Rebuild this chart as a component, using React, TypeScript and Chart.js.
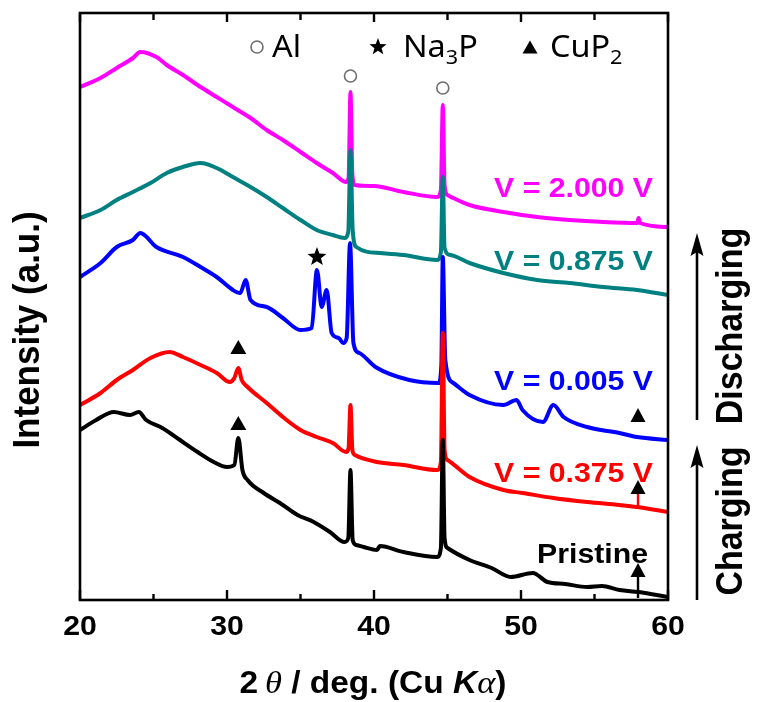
import React, { useEffect, useRef } from "react";
import { Chart, registerables } from "chart.js";

Chart.register(...registerables);

// ---- axis ----
const xMajorTicks = [20, 30, 40, 50, 60];
const xMinorTicks = [25, 35, 45, 55];
const xTickLabels = ["20", "30", "40", "50", "60"];

// ---- series: 2θ (deg) and intensity (a.u., offset-stacked) ----
const pristineX = [20.0, 21.1, 22.3, 23.4, 24.0, 24.5, 25.6, 26.8, 28.0, 29.1, 30.0, 30.5, 30.77, 31.05, 31.4, 32.5, 33.6, 34.8, 35.9, 37.0, 38.0, 38.25, 38.4, 38.55, 38.8, 39.3, 40.2, 40.4, 42.0, 44.3, 44.55, 44.68, 44.8, 45.0, 46.5, 48.0, 49.3, 50.8, 51.8, 53.0, 54.5, 55.5, 56.7, 58.0, 60.0];
const pristineY = [170, 180, 188, 185, 188, 180, 172, 160, 148, 138, 133, 135, 162, 130, 120, 107, 97, 85, 78, 68, 58, 62, 130, 60, 55, 53, 50, 54, 48, 43, 52, 160, 62, 52, 40, 32, 23, 27, 18, 16, 13, 14, 10, 8, 3];

const v0375X = [20.0, 21.4, 22.5, 23.6, 24.8, 26.1, 27.0, 28.2, 29.3, 30.2, 30.5, 30.77, 31.0, 31.4, 32.7, 33.8, 35.0, 36.1, 37.2, 38.1, 38.27, 38.4, 38.53, 38.7, 40.2, 42.0, 44.3, 44.55, 44.68, 44.8, 45.0, 46.5, 48.8, 50.1, 52.2, 54.5, 56.7, 57.9, 60.0];
const v0375Y = [195, 207, 220, 230, 242, 248, 243, 235, 227, 218, 222, 232, 220, 213, 197, 183, 170, 163, 157, 148, 152, 195, 150, 145, 138, 135, 130, 138, 267, 150, 140, 123, 110, 107, 102, 98, 95, 93, 88];

const v0005X = [20.0, 21.4, 22.5, 23.6, 24.1, 25.2, 27.0, 28.2, 29.3, 30.4, 30.9, 31.27, 31.6, 32.7, 33.8, 35.0, 35.76, 36.12, 36.44, 36.78, 37.12, 37.6, 37.9, 38.14, 38.37, 38.6, 39.0, 40.1, 42.4, 44.4, 44.58, 44.68, 44.85, 45.4, 46.5, 48.8, 49.7, 50.1, 51.5, 52.2, 52.9, 54.5, 56.7, 57.9, 60.0];
const v0005Y = [323, 337, 353, 360, 367, 353, 343, 333, 323, 310, 307, 320, 300, 293, 282, 270, 272, 330, 293, 310, 267, 262, 257, 262, 357, 257, 247, 233, 220, 217, 235, 343, 240, 217, 205, 195, 200, 190, 178, 195, 183, 173, 167, 163, 160];

const v0875X = [20.0, 21.4, 22.5, 23.6, 24.8, 25.9, 27.0, 28.2, 29.3, 30.4, 31.6, 32.7, 33.8, 35.0, 36.1, 37.2, 38.0, 38.25, 38.4, 38.55, 38.8, 40.4, 42.0, 44.3, 44.55, 44.68, 44.8, 45.2, 46.5, 48.8, 51.1, 53.3, 55.6, 57.9, 60.0];
const v0875Y = [382, 390, 400, 408, 417, 427, 433, 437, 432, 423, 413, 403, 392, 380, 370, 365, 362, 368, 450, 370, 353, 347, 345, 340, 348, 423, 352, 345, 337, 327, 320, 317, 313, 310, 305];

const v2000X = [20.0, 21.4, 22.5, 23.6, 24.1, 25.2, 25.9, 27.0, 28.2, 29.3, 30.4, 31.6, 32.7, 33.8, 35.0, 36.1, 37.2, 38.1, 38.27, 38.4, 38.53, 38.7, 40.0, 42.0, 44.3, 44.55, 44.68, 44.8, 45.0, 45.4, 46.5, 48.8, 51.1, 53.3, 55.6, 57.9, 58.0, 58.1, 60.0];
const v2000Y = [513, 522, 532, 542, 548, 543, 535, 525, 513, 503, 493, 482, 470, 460, 448, 437, 427, 418, 422, 508, 425, 415, 414, 408, 403, 410, 495, 415, 405, 402, 395, 388, 383, 380, 378, 377, 382, 377, 373];

const seriesLabels = ["Pristine", "V = 0.375 V", "V = 0.005 V", "V = 0.875 V", "V = 2.000 V"];
const seriesColors = ["#000000", "#ff0000", "#0000ff", "#008080", "#ff00ff"];

const SX = 1.08; // horizontal stretch of the original picture's lettering
const SANS = "'Liberation Sans', Arial, sans-serif";

function hText(ctx: CanvasRenderingContext2D, text: string, x: number, y: number, font: string, color: string, align: CanvasTextAlign = "left", baseline: CanvasTextBaseline = "alphabetic") {
  ctx.save();
  ctx.font = font;
  ctx.fillStyle = color;
  ctx.textAlign = align;
  ctx.textBaseline = baseline;
  ctx.translate(x, y);
  ctx.scale(SX, 1);
  ctx.fillText(text, 0, 0);
  ctx.restore();
}

function vText(ctx: CanvasRenderingContext2D, text: string, cx: number, cy: number, font: string) {
  ctx.save();
  ctx.font = font;
  ctx.fillStyle = "#000";
  ctx.textAlign = "center";
  ctx.textBaseline = "middle";
  ctx.translate(cx, cy);
  ctx.rotate(-Math.PI / 2);
  ctx.scale(1, SX);
  ctx.fillText(text, 0, 0);
  ctx.restore();
}

function triangle(ctx: CanvasRenderingContext2D, cx: number, cy: number, w: number, h: number) {
  ctx.beginPath();
  ctx.moveTo(cx, cy - h / 2);
  ctx.lineTo(cx + w / 2, cy + h / 2);
  ctx.lineTo(cx - w / 2, cy + h / 2);
  ctx.closePath();
  ctx.fillStyle = "#000";
  ctx.fill();
}

function star(ctx: CanvasRenderingContext2D, cx: number, cy: number, ro: number, ri: number) {
  ctx.beginPath();
  for (let i = 0; i < 10; i++) {
    const r = i % 2 === 0 ? ro : ri;
    const a = -Math.PI / 2 + (i * Math.PI) / 5;
    const px = cx + r * Math.cos(a);
    const py = cy + r * Math.sin(a);
    if (i === 0) ctx.moveTo(px, py);
    else ctx.lineTo(px, py);
  }
  ctx.closePath();
  ctx.fillStyle = "#000";
  ctx.fill();
}

function ring(ctx: CanvasRenderingContext2D, cx: number, cy: number, r: number) {
  ctx.beginPath();
  ctx.arc(cx, cy, r, 0, Math.PI * 2);
  ctx.strokeStyle = "#6e6e6e";
  ctx.lineWidth = 1.6;
  ctx.stroke();
}

function upArrow(ctx: CanvasRenderingContext2D, x: number, yBottom: number, yTip: number) {
  ctx.save();
  ctx.strokeStyle = "#000";
  ctx.lineWidth = 2.6;
  ctx.beginPath();
  ctx.moveTo(x, yBottom);
  ctx.lineTo(x, yTip + 18);
  ctx.stroke();
  ctx.beginPath();
  ctx.moveTo(x, yTip);
  ctx.lineTo(x + 6.5, yTip + 23);
  ctx.lineTo(x, yTip + 19);
  ctx.lineTo(x - 6.5, yTip + 23);
  ctx.closePath();
  ctx.fillStyle = "#000";
  ctx.fill();
  ctx.restore();
}

const decorPlugin = {
  id: "decor",
  afterDatasetsDraw(chart: any) {
    const ctx: CanvasRenderingContext2D = chart.ctx;
    const { left, right, top, bottom } = chart.chartArea;
    const xs = chart.scales.x;
    const ys = chart.scales.y;
    const X = (v: number) => xs.getPixelForValue(v);
    const Y = (v: number) => ys.getPixelForValue(v);

    ctx.save();
    // frame
    ctx.strokeStyle = "#000";
    ctx.lineWidth = 2.6;
    ctx.strokeRect(left, top, right - left, bottom - top);

    // ticks (inward, top and bottom)
    ctx.lineWidth = 2.4;
    ctx.beginPath();
    xMajorTicks.forEach((t) => {
      const px = X(t);
      ctx.moveTo(px, bottom);
      ctx.lineTo(px, bottom - 10);
      ctx.moveTo(px, top);
      ctx.lineTo(px, top + 9);
    });
    xMinorTicks.forEach((t) => {
      const px = X(t);
      ctx.moveTo(px, bottom);
      ctx.lineTo(px, bottom - 6);
      ctx.moveTo(px, top);
      ctx.lineTo(px, top + 7);
    });
    ctx.stroke();

    // tick labels
    xMajorTicks.forEach((t, i) => {
      hText(ctx, xTickLabels[i], X(t), bottom + 35, `bold 28px ${SANS}`, "#000", "center");
    });

    // x title: 2θ / deg. (Cu Kα)
    const segs: [string, string][] = [
      ["2", `bold 31px ${SANS}`],
      ["\u2009", `bold 31px ${SANS}`],
      ["\u03b8", `italic 32px 'Liberation Serif', serif`],
      [" / deg. (Cu ", `bold 31px ${SANS}`],
      ["K", `italic bold 31px ${SANS}`],
      ["\u03b1", `italic 32px 'Liberation Serif', serif`],
      [")", `bold 31px ${SANS}`],
    ];
    let total = 0;
    segs.forEach(([s, f]) => {
      ctx.font = f;
      total += ctx.measureText(s).width * SX;
    });
    let cx = 373 - total / 2;
    segs.forEach(([s, f]) => {
      hText(ctx, s, cx, 693, f, "#000", "left");
      ctx.font = f;
      cx += ctx.measureText(s).width * SX;
    });

    // y title
    vText(ctx, "Intensity (a.u.)", 29, 330, `bold 35px ${SANS}`);

    // top legend
    const LF = "'Noto Sans', 'Open Sans', sans-serif";
    ring(ctx, 257, 47, 6);
    hText(ctx, "Al", 272, 57, `30px ${LF}`, "#000");
    star(ctx, 378, 47, 9, 3.8);
    hText(ctx, "Na", 403, 57, `30px ${LF}`, "#000");
    ctx.font = `30px ${LF}`;
    const wNa = ctx.measureText("Na").width * SX;
    hText(ctx, "3", 403 + wNa, 64, `20px ${LF}`, "#000");
    ctx.font = `20px ${LF}`;
    const w3 = ctx.measureText("3").width * SX;
    hText(ctx, "P", 403 + wNa + w3, 57, `30px ${LF}`, "#000");
    triangle(ctx, 530, 47, 15, 13);
    hText(ctx, "CuP", 550, 57, `30px ${LF}`, "#000");
    ctx.font = `30px ${LF}`;
    const wCuP = ctx.measureText("CuP").width * SX;
    hText(ctx, "2", 550 + wCuP, 64, `20px ${LF}`, "#000");

    // peak markers
    ring(ctx, X(38.4), Y(524), 6);
    ring(ctx, X(44.68), Y(512), 6);
    star(ctx, X(36.12), Y(343), 10, 4.2);
    triangle(ctx, X(30.77), Y(253), 16, 14);
    triangle(ctx, X(30.77), Y(177), 16, 14);
    triangle(ctx, X(57.96), Y(185), 15, 14);
    triangle(ctx, X(57.96), Y(113), 15, 14);
    triangle(ctx, X(57.96), Y(30), 15, 14);
    ctx.lineWidth = 2.4;
    ctx.strokeStyle = "#ff0000";
    ctx.beginPath();
    ctx.moveTo(X(57.96), Y(106));
    ctx.lineTo(X(57.96), Y(94));
    ctx.stroke();
    ctx.strokeStyle = "#000";
    ctx.beginPath();
    ctx.moveTo(X(57.96), Y(23));
    ctx.lineTo(X(57.96), Y(2));
    ctx.stroke();

    // series labels
    const VF = `bold 28px ${SANS}`;
    hText(ctx, seriesLabels[4], 653, 197, VF, seriesColors[4], "right");
    hText(ctx, seriesLabels[3], 653, 270, VF, seriesColors[3], "right");
    hText(ctx, seriesLabels[2], 653, 390, VF, seriesColors[2], "right");
    hText(ctx, seriesLabels[1], 653, 482, VF, seriesColors[1], "right");
    hText(ctx, seriesLabels[0], 648, 563, VF, seriesColors[0], "right");

    // right-side arrows and captions
    upArrow(ctx, 697, 420, 233);
    upArrow(ctx, 697, 600, 445);
    vText(ctx, "Discharging", 732, 326, `bold 34px ${SANS}`);
    vText(ctx, "Charging", 732, 521, `bold 34px ${SANS}`);
    ctx.restore();
  },
};

export default function App() {
  const ref = useRef<HTMLCanvasElement | null>(null);
  useEffect(() => {
    document.body.style.margin = "0";
    const canvas = ref.current;
    if (!canvas) return;
    const xsAll = [pristineX, v0375X, v0005X, v0875X, v2000X];
    const ysAll = [pristineY, v0375Y, v0005Y, v0875Y, v2000Y];
    const chart = new Chart(canvas, {
      type: "line",
      data: {
        datasets: xsAll.map((xs, k) => ({
          label: seriesLabels[k],
          data: xs.map((x, i) => ({ x, y: ysAll[k][i] })),
          borderColor: seriesColors[k],
          backgroundColor: seriesColors[k],
          borderWidth: 4,
          borderJoinStyle: "round" as const,
          borderCapStyle: "round" as const,
          cubicInterpolationMode: "monotone" as const,
          pointRadius: 0,
          fill: false,
        })),
      },
      options: {
        responsive: false,
        animation: false,
        devicePixelRatio: 1,
        layout: { padding: { left: 80, top: 13, right: 90, bottom: 102 } },
        plugins: { legend: { display: false }, tooltip: { enabled: false } },
        scales: {
          x: { type: "linear", min: 20, max: 60, display: false },
          y: { type: "linear", min: 0, max: 587, display: false },
        },
      },
      plugins: [decorPlugin],
    });
    return () => chart.destroy();
  }, []);
  return (
    <div style={{ width: 758, height: 702, background: "#fff" }}>
      <canvas ref={ref} width={758} height={702} style={{ display: "block" }} />
    </div>
  );
}
